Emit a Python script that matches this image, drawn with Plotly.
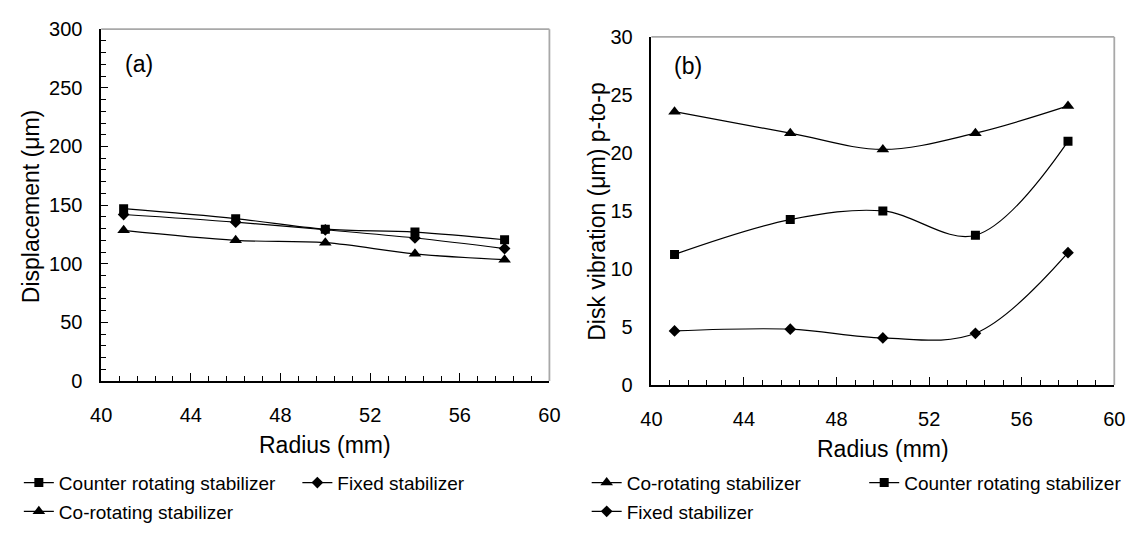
import plotly.graph_objects as go

# Radial measurement positions (mm)
radius = [41, 46, 50, 54, 58]

# (a) Displacement (μm)
disp_counter = [147, 138.5, 129.5, 127, 120.5]
disp_fixed = [142, 135.5, 129, 122, 113]
disp_co = [128.5, 120, 118, 108.5, 103.5]

# (b) Disk vibration, peak-to-peak (μm)
vib_co = [23.55, 21.7, 20.3, 21.7, 24.05]
vib_counter = [11.25, 14.25, 15.0, 12.9, 21.0]
vib_fixed = [4.65, 4.8, 4.05, 4.45, 11.4]

name_counter = "Counter rotating stabilizer"
name_fixed = "Fixed stabilizer"
name_co = "Co-rotating stabilizer"

W, H = 1140, 533
FONT = "Liberation Sans, Arial, sans-serif"


def px(x):
    return x / W


def py(y):
    return 1 - y / H


def series(x, y, name, symbol, size, xa, ya, legend):
    return go.Scatter(
        x=x, y=y, name=name, mode="lines+markers", showlegend=True,
        line=dict(color="black", width=1.2, shape="spline", smoothing=1),
        marker=dict(symbol=symbol, size=size, color="black"),
        xaxis=xa, yaxis=ya, legend=legend,
    )


fig = go.Figure()
# panel (a)
fig.add_trace(series(radius, disp_counter, name_counter, "square", 9, "x", "y", "legend"))
fig.add_trace(series(radius, disp_fixed, name_fixed, "diamond", 9, "x", "y", "legend2"))
fig.add_trace(series(radius, disp_co, name_co, "triangle-up", 11, "x", "y", "legend3"))
# panel (b)
fig.add_trace(series(radius, vib_co, name_co, "triangle-up", 11, "x2", "y2", "legend4"))
fig.add_trace(series(radius, vib_counter, name_counter, "square", 9, "x2", "y2", "legend5"))
fig.add_trace(series(radius, vib_fixed, name_fixed, "diamond", 9, "x2", "y2", "legend6"))

xcommon = dict(
    range=[40, 60], tick0=40, dtick=4, ticks="inside", ticklen=8, tickwidth=1.2,
    tickcolor="black", showline=True, linecolor="black", linewidth=1.5,
    showgrid=False, zeroline=False, ticklabelstandoff=15,
    tickfont=dict(family=FONT, size=20, color="black"),
    minor=dict(dtick=0.8, ticks="inside", ticklen=5, tickwidth=1, tickcolor="black"),
)

fig.update_layout(
    width=W, height=H,
    margin=dict(l=0, r=0, t=0, b=0),
    paper_bgcolor="white", plot_bgcolor="white",
    showlegend=True,
    font=dict(family=FONT, color="black"),
    xaxis=dict(domain=[px(92), px(549)], anchor="y", **xcommon),
    yaxis=dict(
        domain=[py(386), py(19)], anchor="x", range=[0, 300], dtick=50,
        ticks="inside", ticklen=7, tickwidth=1.2, tickcolor="black",
        showline=True, linecolor="black", linewidth=1.5, showgrid=False,
        zeroline=False, ticklabelstandoff=13,
        tickfont=dict(family=FONT, size=20, color="black"),
        minor=dict(dtick=10, ticks="inside", ticklen=5, tickwidth=1, tickcolor="black"),
    ),
    xaxis2=dict(domain=[px(653), px(1125)], anchor="y2", **xcommon),
    yaxis2=dict(
        domain=[py(390), py(27)], anchor="x2", range=[0, 30], dtick=5,
        ticks="", showline=True, linecolor="black", linewidth=1.5,
        showgrid=False, zeroline=False, ticklabelstandoff=13,
        tickfont=dict(family=FONT, size=20, color="black"),
    ),
)

# grey frame on top and right edges of each plot area
for xr, yr in (("x", "y"), ("x2", "y2")):
    fig.add_shape(type="line", xref=f"{xr} domain", yref=f"{yr} domain",
                  x0=0, x1=1, y0=1, y1=1, line=dict(color="#a8a8a8", width=1.8))
    fig.add_shape(type="line", xref=f"{xr} domain", yref=f"{yr} domain",
                  x0=1, x1=1, y0=0, y1=1, line=dict(color="#a8a8a8", width=1.8))

# legends, one entry each, laid out in two rows under each panel
legend_style = dict(
    visible=True, xanchor="left", yanchor="middle", bgcolor="rgba(0,0,0,0)",
    borderwidth=0, font=dict(family=FONT, size=19, color="black"),
)
legend_pos = {
    "legend": (8, 492), "legend2": (292, 492), "legend3": (8, 522),
    "legend4": (587, 492), "legend5": (870, 492), "legend6": (587, 522),
}
for key, (lx, ly) in legend_pos.items():
    fig.update_layout({key: dict(x=px(lx), y=py(ly), **legend_style)})

# axis titles and panel labels
labels = [
    ("Radius (mm)", 320, 453, 0, 23),
    ("Radius (mm)", 889, 457, 0, 23),
    ("Displacement (μm)", 20, 204, -90, 23),
    ("Disk vibration (μm) p-to-p", 598, 209, -90, 23),
    ("(a)", 131, 55, 0, 23),
    ("(b)", 690, 57, 0, 23),
]
for text, x, y, angle, size in labels:
    fig.add_annotation(
        text=text, x=px(x), y=py(y), xref="paper", yref="paper",
        xanchor="center", yanchor="middle", showarrow=False, textangle=angle,
        font=dict(family=FONT, size=size, color="black"),
    )

fig.write_html("out.html")
